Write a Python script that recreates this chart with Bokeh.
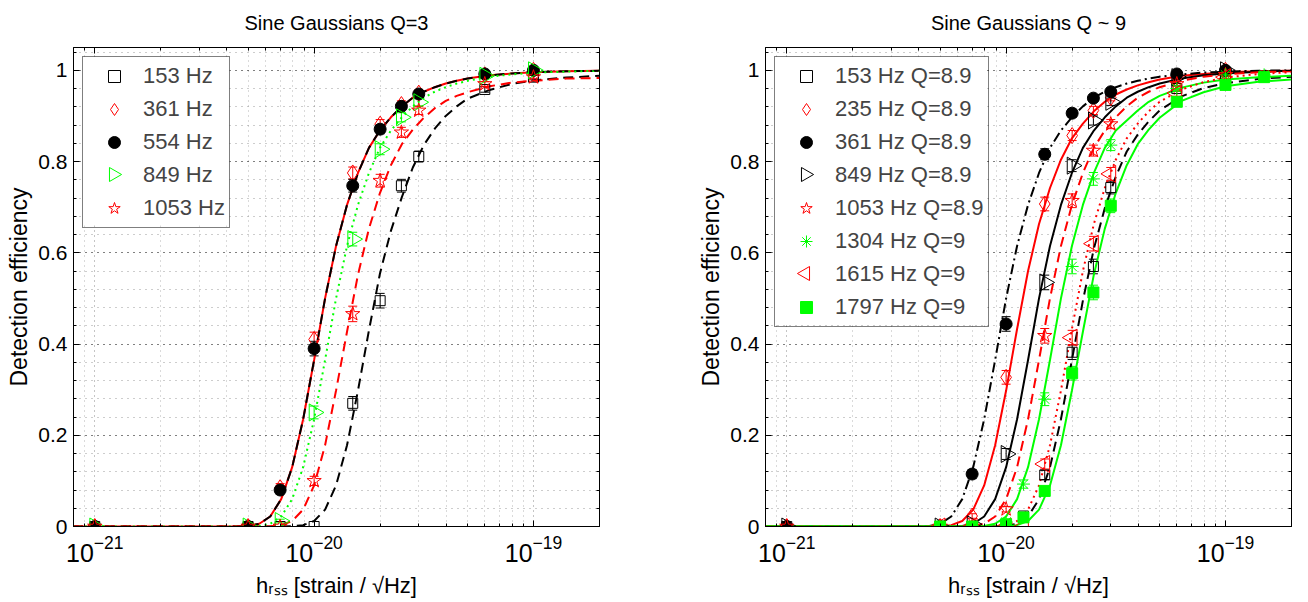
import numpy as np
from bokeh.plotting import figure
from bokeh.layouts import row
from bokeh.models import (Range1d, FixedTicker, LogAxis, LinearAxis, Legend, LegendItem,
                          Whisker, TeeHead, ColumnDataSource, CustomJSTickFormatter)
from bokeh.embed import file_html
from bokeh.resources import INLINE

FONT = "Liberation Sans"

# ---------------- axes ----------------
X_RANGE = (8e-22, 2e-19)
Y_RANGE = (0, 1.05)
X_TICKS = [1e-21, 1e-20, 1e-19]
X_MINOR = [m * 10.0 ** e for e in (-22, -21, -20, -19) for m in range(2, 10)]
Y_TICKS = [0, 0.2, 0.4, 0.6, 0.8, 1]
Y_LABELS = ["0", "0.2", "0.4", "0.6", "0.8", "1"]
Y_MINOR = [0.04, 0.08, 0.12, 0.16, 0.24, 0.28, 0.32, 0.36, 0.44, 0.48, 0.52, 0.56,
           0.64, 0.68, 0.72, 0.76, 0.84, 0.88, 0.92, 0.96, 1.04]

TITLE_L = "Sine Gaussians Q=3"
TITLE_R = "Sine Gaussians Q ~ 9"
X_LABEL = "h\u1d63\u209b\u209b [strain / \u221aHz]"
Y_LABEL = "Detection efficiency"

# ---------------- left panel: measured points ----------------
HRSS_L = [1e-21, 5e-21, 7e-21, 1e-20, 1.5e-20, 2e-20, 2.5e-20, 3e-20, 6e-20, 1e-19]
L_EFF_153 = [0, 0, 0, 0.0, 0.27, 0.495, 0.747, 0.811, 0.958, 0.985]
L_ERR_153 = [0, 0, 0, 0, 0.015, 0.016, 0.014, 0.012, 0.006, 0.004]
L_EFF_361 = [0, 0, 0.085, 0.41, 0.775, 0.882, 0.925, 0.95, 0.99, 1.0]
L_ERR_361 = [0, 0, 0.009, 0.016, 0.013, 0.010, 0.008, 0.007, 0.003, 0.002]
L_EFF_554 = [0, 0, 0.08, 0.39, 0.747, 0.871, 0.921, 0.948, 0.992, 1.0]
L_ERR_554 = [0, 0, 0.009, 0.016, 0.014, 0.010, 0.008, 0.007, 0.003, 0.002]
L_EFF_849 = [0, 0, 0.012, 0.25, 0.63, 0.827, 0.897, 0.93, 0.988, 1.0]
L_ERR_849 = [0, 0, 0.004, 0.014, 0.015, 0.012, 0.010, 0.008, 0.003, 0.002]
L_EFF_1053 = [0, 0, 0.0, 0.10, 0.466, 0.758, 0.864, 0.912, 0.97, 0.985]
L_ERR_1053 = [0, 0, 0, 0.010, 0.017, 0.014, 0.011, 0.009, 0.005, 0.004]

# ---------------- right panel: measured points ----------------
HRSS_R = [1e-21, 5e-21, 7e-21, 1e-20, 1.2e-20, 1.5e-20, 2e-20, 2.5e-20, 3e-20, 6e-20, 1e-19, 1.5e-19]
R_EFF_153 = [0, 0, 0, 0, 0.023, 0.113, 0.382, 0.57, 0.743, 0.96, 0.99, None]
R_ERR_153 = [0, 0, 0, 0, 0.005, 0.010, 0.016, 0.016, 0.014, 0.006, 0.003, 0]
R_EFF_235 = [0, 0, 0.023, 0.327, None, 0.707, 0.857, 0.912, 0.94, 0.985, 1.0, None]
R_ERR_235 = [0, 0, 0.005, 0.015, 0, 0.015, 0.011, 0.009, 0.007, 0.004, 0.002, 0]
R_EFF_361 = [0, 0, 0.115, 0.444, None, 0.816, 0.906, 0.939, 0.953, 0.992, 1.0, None]
R_ERR_361 = [0, 0, 0.010, 0.016, 0, 0.012, 0.009, 0.008, 0.007, 0.003, 0.002, 0]
R_EFF_849 = [0, 0, 0.005, 0.159, None, 0.535, 0.791, 0.89, 0.931, 0.985, 1.0, None]
R_ERR_849 = [0, 0, 0.002, 0.012, 0, 0.016, 0.013, 0.010, 0.008, 0.004, 0.002, 0]
R_EFF_1053 = [0, 0, 0, 0.038, None, 0.418, 0.714, 0.824, 0.882, 0.97, 0.99, None]
R_ERR_1053 = [0, 0, 0, 0.006, 0, 0.016, 0.015, 0.012, 0.010, 0.005, 0.003, 0]
R_EFF_1304 = [None, 0, 0, 0.01, 0.093, 0.279, 0.57, 0.762, 0.836, 0.96, 0.99, 0.99]
R_ERR_1304 = [0, 0, 0, 0.003, 0.009, 0.014, 0.016, 0.014, 0.012, 0.006, 0.003, 0.003]
R_EFF_1615 = [None, 0, 0, 0, 0.0, 0.137, 0.414, 0.62, 0.773, 0.95, 0.985, None]
R_ERR_1615 = [0, 0, 0, 0, 0, 0.011, 0.016, 0.016, 0.014, 0.007, 0.004, 0]
R_EFF_1797 = [None, 0, 0, 0.005, 0.02, 0.078, 0.336, 0.513, 0.703, 0.931, 0.968, 0.985]
R_ERR_1797 = [0, 0, 0, 0.002, 0.005, 0.009, 0.015, 0.016, 0.015, 0.008, 0.006, 0.004]

# ---------------- fitted curves ----------------
FIT_LOG_HRSS = [-21.1, -20.5, -20.45, -20.4, -20.35, -20.3, -20.25, -20.2, -20.15, -20.1,
                -20.05, -20.0, -19.95, -19.9, -19.85, -19.8, -19.75, -19.7, -19.65, -19.6,
                -19.55, -19.5, -19.45, -19.4, -19.35, -19.3, -19.2, -19.1, -19.0, -18.85, -18.7]

LF_153 = [0, 0, 0, 0, 0, 0, 0, 0, 0, 0.0005, 0.003, 0.012, 0.037, 0.09, 0.178, 0.298,
          0.43, 0.554, 0.648, 0.722, 0.787, 0.836, 0.872, 0.9, 0.921, 0.938, 0.957, 0.97,
          0.978, 0.984, 0.988]
LF_361 = [0, 0, 0, 0, 0, 0.001, 0.006, 0.022, 0.06, 0.13, 0.235, 0.365, 0.5, 0.615, 0.705,
          0.775, 0.83, 0.868, 0.897, 0.921, 0.94, 0.953, 0.963, 0.971, 0.977, 0.982, 0.989,
          0.993, 0.996, 0.998, 0.999]
LF_554 = [0, 0, 0, 0, 0, 0.001, 0.006, 0.022, 0.06, 0.13, 0.235, 0.365, 0.5, 0.615, 0.705,
          0.775, 0.83, 0.868, 0.897, 0.921, 0.94, 0.953, 0.963, 0.971, 0.977, 0.982, 0.989,
          0.993, 0.996, 0.998, 0.999]
LF_849 = [0, 0, 0, 0, 0, 0, 0.001, 0.006, 0.022, 0.06, 0.13, 0.235, 0.365, 0.5, 0.615,
          0.705, 0.775, 0.83, 0.868, 0.897, 0.921, 0.94, 0.953, 0.963, 0.971, 0.977, 0.986,
          0.991, 0.995, 0.997, 0.999]
LF_1053 = [0, 0, 0, 0, 0, 0, 0, 0.0005, 0.003, 0.012, 0.037, 0.09, 0.178, 0.298, 0.427,
           0.552, 0.653, 0.731, 0.792, 0.838, 0.87, 0.896, 0.917, 0.933, 0.944, 0.952,
           0.965, 0.973, 0.977, 0.982, 0.983]

RF_153 = [0, 0, 0, 0, 0, 0, 0, 0, 0, 0, 0, 0.001, 0.006, 0.022, 0.06, 0.13, 0.235, 0.365,
          0.495, 0.609, 0.698, 0.767, 0.822, 0.859, 0.888, 0.912, 0.943, 0.961, 0.972,
          0.981, 0.986]
RF_235 = [0, 0, 0, 0, 0, 0.0005, 0.003, 0.012, 0.037, 0.09, 0.178, 0.298, 0.433, 0.56,
          0.663, 0.742, 0.804, 0.851, 0.883, 0.91, 0.931, 0.947, 0.958, 0.967, 0.974, 0.98,
          0.988, 0.992, 0.996, 0.998, 0.999]
RF_361 = [0, 0, 0, 0, 0.001, 0.006, 0.022, 0.06, 0.13, 0.235, 0.365, 0.5, 0.615, 0.705,
          0.775, 0.83, 0.868, 0.897, 0.921, 0.94, 0.953, 0.963, 0.971, 0.977, 0.982, 0.986,
          0.991, 0.995, 0.997, 0.999, 1.0]
RF_849 = [0, 0, 0, 0, 0, 0, 0, 0.001, 0.006, 0.022, 0.06, 0.13, 0.235, 0.365, 0.5, 0.615,
          0.705, 0.775, 0.83, 0.868, 0.897, 0.921, 0.94, 0.953, 0.963, 0.971, 0.982, 0.989,
          0.993, 0.997, 0.999]
RF_1053 = [0, 0, 0, 0, 0, 0, 0, 0, 0.001, 0.006, 0.022, 0.06, 0.13, 0.235, 0.365, 0.5,
           0.615, 0.705, 0.775, 0.83, 0.868, 0.897, 0.921, 0.94, 0.953, 0.963, 0.977, 0.986,
           0.991, 0.996, 0.998]
RF_1304 = [0, 0, 0, 0, 0, 0, 0, 0, 0, 0.001, 0.006, 0.022, 0.06, 0.13, 0.235, 0.365, 0.5,
           0.615, 0.705, 0.775, 0.83, 0.868, 0.89, 0.912, 0.931, 0.944, 0.962, 0.973, 0.98,
           0.985, 0.988]
RF_1615 = [0, 0, 0, 0, 0, 0, 0, 0, 0, 0, 0.0005, 0.003, 0.012, 0.037, 0.09, 0.178, 0.298,
           0.433, 0.56, 0.663, 0.742, 0.804, 0.851, 0.883, 0.91, 0.931, 0.958, 0.974, 0.984,
           0.992, 0.996]
RF_1797 = [0, 0, 0, 0, 0, 0, 0, 0, 0, 0, 0, 0.0005, 0.003, 0.012, 0.037, 0.09, 0.178, 0.298,
           0.427, 0.552, 0.653, 0.731, 0.792, 0.838, 0.87, 0.896, 0.933, 0.952, 0.965, 0.975,
           0.98]

# ---------------- styles ----------------
BLACK, RED, GREEN = "#000000", "#ff0000", "#00ff00"
DASH, DOT, DASHDOT, SOLID = "10 6", "2 4", "10 4 2 4", "solid"

MK = {
    "square": dict(marker="square", size=10),
    "diamond": dict(marker="diamond", size=16),
    "circle": dict(marker="circle", size=12, fill=True),
    "tri_r": dict(marker="triangle", size=17, angle=-np.pi / 2),
    "tri_l": dict(marker="triangle", size=17, angle=np.pi / 2),
    "star": dict(marker="star", size=15),
    "asterisk": dict(marker="asterisk", size=13),
    "fsquare": dict(marker="square", size=11, fill=True),
}

SERIES_L = [
    ("153 Hz", L_EFF_153, L_ERR_153, LF_153, BLACK, "square", DASH),
    ("361 Hz", L_EFF_361, L_ERR_361, LF_361, RED, "diamond", SOLID),
    ("554 Hz", L_EFF_554, L_ERR_554, LF_554, BLACK, "circle", DASH),
    ("849 Hz", L_EFF_849, L_ERR_849, LF_849, GREEN, "tri_r", DOT),
    ("1053 Hz", L_EFF_1053, L_ERR_1053, LF_1053, RED, "star", DASH),
]
SERIES_R = [
    ("153 Hz Q=8.9", R_EFF_153, R_ERR_153, RF_153, BLACK, "square", DASH),
    ("235 Hz Q=8.9", R_EFF_235, R_ERR_235, RF_235, RED, "diamond", SOLID),
    ("361 Hz Q=8.9", R_EFF_361, R_ERR_361, RF_361, BLACK, "circle", DASHDOT),
    ("849 Hz Q=8.9", R_EFF_849, R_ERR_849, RF_849, BLACK, "tri_r", SOLID),
    ("1053 Hz Q=8.9", R_EFF_1053, R_ERR_1053, RF_1053, RED, "star", DASH),
    ("1304 Hz Q=9", R_EFF_1304, R_ERR_1304, RF_1304, GREEN, "asterisk", SOLID),
    ("1615 Hz Q=9", R_EFF_1615, R_ERR_1615, RF_1615, RED, "tri_l", DOT),
    ("1797 Hz Q=9", R_EFF_1797, R_ERR_1797, RF_1797, GREEN, "fsquare", SOLID),
]

FW, FH = 526, 479
LEG_MARGIN, LEG_PAD, LEG_GW, LEG_GH, LEG_SP = 9, 4, 54, 30, 3
LOG_X0, LOG_X1 = np.log10(X_RANGE[0]), np.log10(X_RANGE[1])


def px_to_x(px):
    """frame pixel offset from the left edge -> hrss (log axis)"""
    return 10.0 ** (LOG_X0 + px / FW * (LOG_X1 - LOG_X0))


def px_to_y(py):
    """frame pixel offset from the top edge -> efficiency"""
    return Y_RANGE[1] - py / FH * (Y_RANGE[1] - Y_RANGE[0])


def make_panel(title, hrss, series, border_left, border_right, legend_w):
    p = figure(x_axis_type="log", x_range=Range1d(*X_RANGE), y_range=Range1d(*Y_RANGE),
               frame_width=FW, frame_height=FH, min_border_left=border_left,
               min_border_right=border_right, min_border_top=46, min_border_bottom=76,
               output_backend="svg", toolbar_location=None, title=title)
    p.background_fill_color = "white"
    p.border_fill_color = "white"
    p.outline_line_color = "black"
    p.outline_line_width = 1

    p.title.align = "center"
    p.title.vertical_align = "top"
    p.title.text_font = FONT
    p.title.text_font_size = "20px"
    p.title.text_font_style = "normal"
    p.title.text_color = "black"
    p.title.standoff = 23

    p.xaxis.ticker = FixedTicker(ticks=X_TICKS, minor_ticks=X_MINOR)
    p.yaxis.ticker = FixedTicker(ticks=Y_TICKS, minor_ticks=Y_MINOR)
    p.yaxis.major_label_overrides = {float(t): s for t, s in zip(Y_TICKS, Y_LABELS)}
    for ax in (p.xaxis[0], p.yaxis[0]):
        ax.major_tick_in = 6
        ax.major_tick_out = 0
        ax.minor_tick_in = 3
        ax.minor_tick_out = 0
        ax.axis_line_color = "black"
        ax.major_tick_line_color = "black"
        ax.minor_tick_line_color = "black"
        ax.major_label_text_font = FONT
        ax.major_label_text_color = "black"
        ax.axis_label_text_font = FONT
        ax.axis_label_text_font_style = "normal"
        ax.axis_label_text_color = "black"
    p.xaxis.major_label_text_font_size = "25px"
    p.yaxis.major_label_text_font_size = "21px"
    p.xaxis.axis_label_text_font_size = "22px"
    p.yaxis.axis_label_text_font_size = "23px"
    p.xaxis.major_label_standoff = 8
    p.yaxis.major_label_standoff = 6
    p.xaxis.axis_label = X_LABEL
    p.yaxis.axis_label = Y_LABEL
    p.xaxis.axis_label_standoff = 8
    p.yaxis.axis_label_standoff = 3

    empty = CustomJSTickFormatter(code="return ''")
    top = LogAxis(ticker=FixedTicker(ticks=X_TICKS, minor_ticks=X_MINOR), formatter=empty,
                  major_tick_in=6, major_tick_out=0, minor_tick_in=3, minor_tick_out=0,
                  axis_line_color=None, major_label_standoff=0)
    right = LinearAxis(ticker=FixedTicker(ticks=Y_TICKS, minor_ticks=Y_MINOR), formatter=empty,
                       major_tick_in=6, major_tick_out=0, minor_tick_in=3, minor_tick_out=0,
                       axis_line_color=None, major_label_standoff=0)
    p.add_layout(top, "above")
    p.add_layout(right, "right")

    p.xgrid.grid_line_color = "#8a8a8a"
    p.xgrid.grid_line_dash = "1 4"
    p.xgrid.minor_grid_line_color = "#b4b4b4"
    p.xgrid.minor_grid_line_dash = "1 4"
    p.ygrid.grid_line_color = "#000000"
    p.ygrid.grid_line_dash = "1 5"
    p.ygrid.minor_grid_line_color = "#9a9a9a"
    p.ygrid.minor_grid_line_dash = "1 5"
    p.xgrid.level = "image"
    p.ygrid.level = "image"

    # white panel behind the (transparent) legend box, so the grid does not show through
    n = len(series)
    legend_h = 2 * LEG_PAD + n * LEG_GH + (n - 1) * LEG_SP
    p.quad(left=[px_to_x(LEG_MARGIN + 1)], right=[px_to_x(LEG_MARGIN + legend_w - 1)],
           top=[px_to_y(LEG_MARGIN + 1)], bottom=[px_to_y(LEG_MARGIN + legend_h - 1)],
           fill_color="white", line_color=None, level="underlay")

    fit_x = [10.0 ** v for v in FIT_LOG_HRSS]
    for name, eff, err, fit, color, mk, dash in series:
        p.line(fit_x, fit, line_color=color, line_width=2, line_dash=dash)

    items = []
    for i, (name, eff, err, fit, color, mk, dash) in enumerate(series):
        ys = np.array([np.nan if v is None else v for v in eff], dtype=float)
        xs = np.array(hrss, dtype=float)
        es = np.array(err, dtype=float)
        keep = ~np.isnan(ys) & (es > 0)
        src = ColumnDataSource(dict(x=xs[keep], up=ys[keep] + es[keep], lo=ys[keep] - es[keep]))
        w = Whisker(source=src, base="x", upper="up", lower="lo", line_color=color, line_width=1,
                    upper_head=TeeHead(size=9, line_color=color, line_width=1),
                    lower_head=TeeHead(size=9, line_color=color, line_width=1))
        p.add_layout(w)
        ok = ~np.isnan(ys)
        kw = dict(MK[mk])
        filled = kw.pop("fill", False)
        r = p.scatter(xs[ok], ys[ok], line_color=color, line_width=1,
                      fill_color=color if filled else None, **kw)
        if "angle" not in kw:
            items.append(LegendItem(label=name, renderers=[r]))
        else:
            # legend glyphs ignore marker rotation: put the sideways triangle in the legend slot
            ghost = p.scatter([], [], marker="dot", line_alpha=0, fill_alpha=0)
            items.append(LegendItem(label=name, renderers=[ghost]))
            cy = LEG_MARGIN + LEG_PAD + LEG_GH / 2 + i * (LEG_GH + LEG_SP)
            p.scatter([px_to_x(LEG_MARGIN + LEG_PAD + LEG_GW / 2)], [px_to_y(cy)],
                      marker="triangle", size=14, angle=kw["angle"], line_color=color,
                      line_width=1, fill_color=None)

    legend = Legend(items=items, location="top_left", margin=LEG_MARGIN, padding=LEG_PAD,
                    spacing=LEG_SP, glyph_width=LEG_GW, glyph_height=LEG_GH, label_standoff=2,
                    label_text_font=FONT, label_text_font_size="22px",
                    border_line_color="black", border_line_width=1,
                    background_fill_color=None)
    p.add_layout(legend)
    return p


p1 = make_panel(TITLE_L, HRSS_L, SERIES_L, 73, 93, 148)
p2 = make_panel(TITLE_R, HRSS_R, SERIES_R, 73, 17, 213)
layout = row(p1, p2)
open("out.html", "w").write(file_html(layout, INLINE, "Detection efficiency"))
